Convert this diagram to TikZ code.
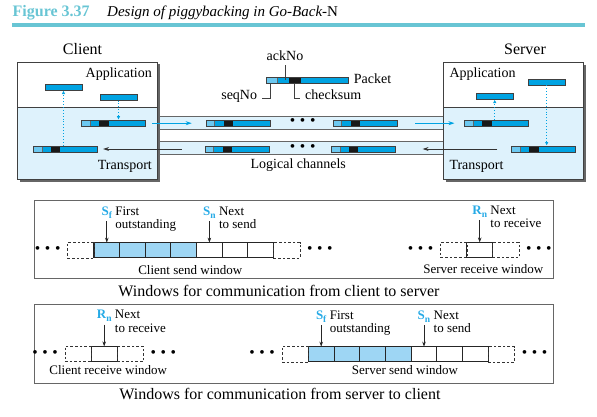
\documentclass[tikz,border=0pt]{standalone}
\usepackage{fontspec}
\setmainfont{Liberation Serif}
\usepackage{tikz}
\usetikzlibrary{arrows.meta, positioning, calc, shadows}

\definecolor{figteal}{RGB}{104,197,212}
\definecolor{pktblue}{RGB}{0,163,226}
\definecolor{pktlight}{RGB}{108,200,240}
\definecolor{areablue}{RGB}{222,242,252}
\definecolor{cellblue}{RGB}{158,214,244}
\definecolor{ptrblue}{RGB}{38,170,230}

\newcommand{\bdots}{\textbullet\hspace{4.6pt}\textbullet\hspace{4.6pt}\textbullet}
\newcommand{\ptrsub}[2]{#1\raisebox{-0.5ex}{\fontsize{9.5}{10}\selectfont #2}}

\begin{document}
\begin{tikzpicture}[
    x=1pt, y=-1pt,
    font=\fontsize{14}{15}\selectfont,
    lbl/.style={inner sep=0pt},
    host/.style={draw=black!75, line width=0.9pt, minimum width=139.5pt,
        inner sep=0pt, outer sep=0pt,
        drop shadow={shadow xshift=2.5pt, shadow yshift=-2.5pt, fill=black!60, opacity=1}},
    chan/.style={draw=black!60, line width=0.7pt, fill=areablue,
        minimum width=300pt, minimum height=12.6pt, inner sep=0pt},
    msg/.style={draw=black!75, line width=0.6pt, fill=pktblue,
        minimum width=37pt, minimum height=6pt, inner sep=0pt},
    pkt/.style={msg, minimum width=64pt, minimum height=6.3pt,
        path picture={
            \path (path picture bounding box.south west) coordinate (pa)
                  (path picture bounding box.south east) coordinate (pe)
                  (path picture bounding box.north west) coordinate (pw)
                  (path picture bounding box.north east) coordinate (pb);
            \fill[pktlight] (pa) rectangle ($(pw)!0.135!(pb)$);
            \fill[black!90] ($(pa)!0.275!(pe)$) rectangle ($(pw)!0.42!(pb)$);
            \draw[black!60, line width=0.5pt] ($(pa)!0.135!(pe)$) -- ($(pw)!0.135!(pb)$);
        }},
    feed/.style={pktblue, line width=0.9pt, dotted, -{Latex[length=3.5pt, width=3.5pt]}},
    flow/.style={pktblue, line width=0.8pt, -{Stealth[length=6pt, width=4pt]}},
    back/.style={black!80, line width=0.8pt, -{Stealth[length=6pt, width=4pt]}},
    lead/.style={black!75, line width=0.6pt},
    win/.style={draw=black!60, line width=1pt, minimum width=519pt, inner sep=0pt},
    cell/.style={draw=black!85, line width=1.1pt, minimum width=25.7pt,
        minimum height=15.2pt, inner sep=0pt, outer sep=0pt},
    spare/.style={draw=black!80, line width=0.6pt, dash pattern=on 2.6pt off 2pt,
        minimum width=26.3pt, minimum height=15.2pt, inner sep=0pt, outer sep=0pt},
    sym/.style={text=ptrblue, font=\fontsize{13}{14}\selectfont\bfseries, inner sep=0pt},
    note/.style={align=left, inner sep=0pt, font=\fontsize{13}{13.5}\selectfont},
    small/.style={inner sep=0pt, font=\fontsize{13}{14}\selectfont},
    ptr/.style={black!85, line width=0.7pt, -{Stealth[length=5pt, width=3.6pt]}},
    ellip/.style={inner sep=0pt, font=\fontsize{15.5}{15.5}\selectfont}
]
\useasboundingbox (0,0) rectangle (597,417);

% title
\node[lbl, anchor=base west, text=figteal, font=\fontsize{16}{18}\selectfont\bfseries] (figno) at (12.5,17) {Figure 3.37};
\node[lbl, anchor=base west, font=\fontsize{15}{18}\selectfont\itshape] (figttl) at (107,17) {Design of piggybacking in Go-Back-\textup{N}};
\draw[figteal, line width=4.5pt] (12,25) -- (585,25);

% logical channels
\node[chan] (chup) at (300,123) {};
\node[chan, minimum height=12.8pt] (chdn) at (300,148) {};

% client and server
\node[host, fill=white, minimum height=45pt] (capp) at (87.25,84.5) {};
\node[host, fill=areablue, minimum height=72pt, below=0pt of capp] (ctrans) {};
\node[host, fill=white, minimum height=45pt] (sapp) at (513.5,84.75) {};
\node[host, fill=areablue, minimum height=72pt, below=0pt of sapp] (strans) {};

\node[lbl, anchor=base, font=\fontsize{16}{18}\selectfont] (cname) at (82.5,55) {Client};
\node[lbl, anchor=base, font=\fontsize{16}{18}\selectfont] (sname) at (525,55) {Server};
\node[lbl, anchor=base east] (capplbl) at (152,77.7) {Application};
\node[lbl, anchor=base east] (ctrlbl) at (152,169) {Transport};
\node[lbl, anchor=base west] (sapplbl) at (449.3,77.7) {Application};
\node[lbl, anchor=base west] (strlbl) at (449.3,169) {Transport};

% packets
\node[msg] (cmsg1) at (63.5,87.3) {};
\node[msg] (cmsg2) at (118.5,97.3) {};
\node[pkt] (cpkt1) at (113.7,123.2) {};
\node[pkt] (cpkt2) at (65.3,149) {};

\node[msg] (smsg1) at (546.7,82.2) {};
\node[msg] (smsg2) at (494.7,96.3) {};
\node[pkt] (spkt1) at (496.7,123.2) {};
\node[pkt] (spkt2) at (543.7,149) {};

\node[pkt] (lpkt1) at (238,123.2) {};
\node[pkt] (lpkt2) at (365,123.2) {};
\node[pkt] (lpkt3) at (237,149) {};
\node[pkt] (lpkt4) at (363.3,149) {};
\node[ellip] (ldots1) at (302.7,122.5) {\bdots};
\node[ellip] (ldots2) at (302.7,148.5) {\bdots};

% arrows
\draw[feed] (cmsg2.south) -- (cmsg2.south |- cpkt1.north);
\draw[feed] (cmsg1.south |- cpkt2.north) -- (cmsg1.south);
\draw[feed] (smsg2.south |- spkt1.north) -- (smsg2.south);
\draw[feed] (smsg1.south) -- (smsg1.south |- spkt2.north);

\draw[flow] ([xshift=6pt]cpkt1.east) -- ([xshift=-14pt]lpkt1.west);
\draw[flow] ([xshift=18pt]lpkt2.east) -- ([xshift=-10pt]spkt1.west);
\draw[back] ([xshift=-14pt]spkt2.west) -- ([xshift=27pt]lpkt4.east);
\draw[back] ([xshift=-23pt]lpkt3.west) -- ([xshift=5.5pt]cpkt2.east);

% packet fields
\node[pkt, minimum width=82.3pt, minimum height=6pt] (legpkt) at (307.2,80.3) {};
\node[lbl, anchor=base west] (pktlbl) at ([xshift=5pt, yshift=-3pt]legpkt.east) {Packet};
\node[lbl, anchor=base] (acklbl) at (285,60.7) {ackNo};
\node[lbl, anchor=base east] (seqlbl) at (257.3,100) {seqNo};
\node[lbl, anchor=base west] (chklbl) at (305,100) {checksum};
\draw[lead] ([yshift=-4.3pt]acklbl.south) -- (acklbl.south |- legpkt.center);
\draw[lead] ([xshift=5pt, yshift=1.7pt]seqlbl.base east) -| ([xshift=4.5pt]legpkt.south west);
\draw[lead] ([xshift=28.5pt]legpkt.south west) |- ([xshift=-5.5pt, yshift=1.7pt]chklbl.base west);
\node[lbl, anchor=base] (chanlbl) at (298.3,168.3) {Logical channels};

% windows, client to server
\node[win, minimum height=78pt] (c2swin) at (293.5,239) {};
\node[lbl, anchor=base, font=\fontsize{16}{16}\selectfont] (c2scap) at (279,296) {Windows for communication from client to server};

\foreach \i/\c in {0/cellblue,1/cellblue,2/cellblue,3/cellblue,4/white,5/white,6/white}
    \node[cell, fill=\c] (cs\i) at (106.8+25.65*\i,250.2) {};
\node[spare, left=0pt of cs0] (csL) {};
\node[spare, right=0pt of cs6] (csR) {};
\node[ellip, left=7pt of csL] (csdL) {\bdots};
\node[ellip, right=7pt of csR] (csdR) {\bdots};
\node[sym, anchor=base] (csf) at ($(cs0.north)+(0,-27.5)$) {\ptrsub{S}{f}};
\draw[ptr] ([yshift=-6pt]csf.base) -- (cs0.north);
\node[note, anchor=base west] (csfn) at ([xshift=3pt, yshift=-13.5pt]csf.base east) {First\\outstanding};
\node[sym, anchor=base] (csn) at ($(cs4.north)+(0,-27.5)$) {\ptrsub{S}{n}};
\draw[ptr] ([yshift=-6pt]csn.base) -- (cs4.north);
\node[note, anchor=base west] (csnn) at ([xshift=3pt, yshift=-13.5pt]csn.base east) {Next\\to send};
\node[small, anchor=base] (cswlbl) at ($(cs3.south)+(6.5,16.3)$) {Client send window};

\node[cell] (srx) at (479.7,250) {};
\node[spare, left=0pt of srx] (srL) {};
\node[spare, right=0pt of srx] (srR) {};
\node[ellip, left=7pt of srL] (srdL) {\bdots};
\node[ellip, right=7pt of srR] (srdR) {\bdots};
\node[sym, anchor=base] (srn) at ($(srx.north)+(0,-28)$) {\ptrsub{R}{n}};
\draw[ptr] ([yshift=-6pt]srn.base) -- (srx.north);
\node[note, anchor=base west] (srnn) at ([xshift=3pt, yshift=-13.5pt]srn.base east) {Next\\to receive};
\node[small, anchor=base] (srwlbl) at ($(srx.south)+(3.6,15.6)$) {Server receive window};

% windows, server to client
\node[win, minimum height=79pt] (s2cwin) at (293.5,343.5) {};
\node[lbl, anchor=base, font=\fontsize{16}{16}\selectfont] (s2ccap) at (280,399.5) {Windows for communication from server to client};

\node[cell] (crx) at (104.2,354) {};
\node[spare, left=0pt of crx] (crL) {};
\node[spare, right=0pt of crx] (crR) {};
\node[ellip, left=7pt of crL] (crdL) {\bdots};
\node[ellip, right=7pt of crR] (crdR) {\bdots};
\node[sym, anchor=base] (crn) at ($(crx.north)+(0,-27.7)$) {\ptrsub{R}{n}};
\draw[ptr] ([yshift=-6pt]crn.base) -- (crx.north);
\node[note, anchor=base west] (crnn) at ([xshift=3pt, yshift=-13.5pt]crn.base east) {Next\\to receive};
\node[small, anchor=base] (crwlbl) at ($(crx.south)+(4,13.3)$) {Client receive window};

\foreach \i/\c in {0/cellblue,1/cellblue,2/cellblue,3/cellblue,4/white,5/white,6/white}
    \node[cell, fill=\c] (ss\i) at (321.2+25.7*\i,354.2) {};
\node[spare, left=0pt of ss0] (ssL) {};
\node[spare, right=0pt of ss6] (ssR) {};
\node[ellip, left=7pt of ssL] (ssdL) {\bdots};
\node[ellip, right=7pt of ssR] (ssdR) {\bdots};
\node[sym, anchor=base] (ssf) at ($(ss0.north)+(0,-27.4)$) {\ptrsub{S}{f}};
\draw[ptr] ([yshift=-6pt]ssf.base) -- (ss0.north);
\node[note, anchor=base west] (ssfn) at ([xshift=3pt, yshift=-13.5pt]ssf.base east) {First\\outstanding};
\node[sym, anchor=base] (ssn) at ($(ss4.north)+(0,-27.4)$) {\ptrsub{S}{n}};
\draw[ptr] ([yshift=-6pt]ssn.base) -- (ss4.north);
\node[note, anchor=base west] (ssnn) at ([xshift=3pt, yshift=-13.5pt]ssn.base east) {Next\\to send};
\node[small, anchor=base] (sswlbl) at ($(ss3.south)+(6.7,12.2)$) {Server send window};

\end{tikzpicture}
\end{document}
